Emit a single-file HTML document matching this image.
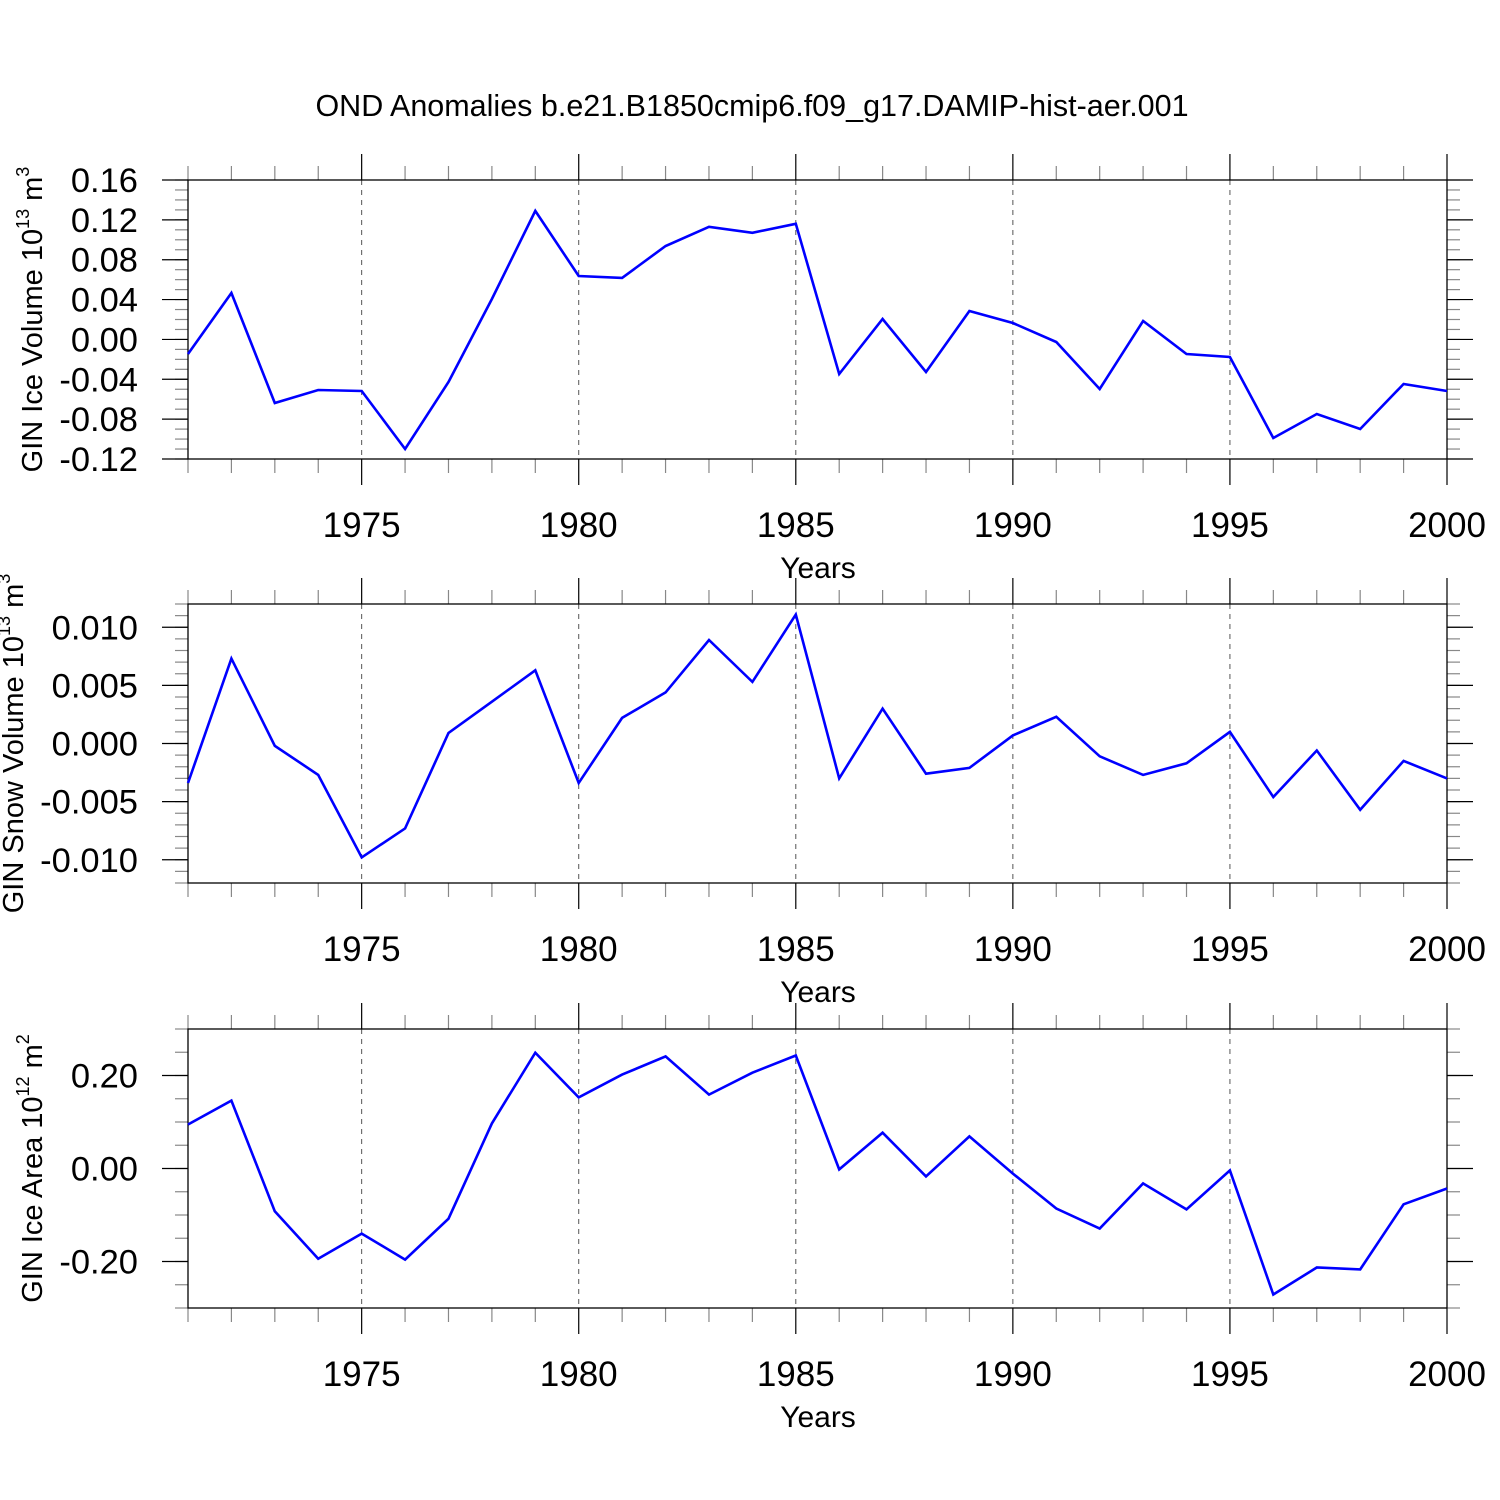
<!DOCTYPE html>
<html><head><meta charset="utf-8"><style>
html,body{margin:0;padding:0;background:#fff;}
svg{display:block;font-family:"Liberation Sans",Arial,sans-serif;}
</style></head><body>
<svg id="chart" width="1500" height="1500" viewBox="0 0 1500 1500" xmlns="http://www.w3.org/2000/svg">
<rect width="1500" height="1500" fill="#fff"/>
<text x="752" y="116" font-size="30.5" text-anchor="middle">OND Anomalies b.e21.B1850cmip6.f09_g17.DAMIP-hist-aer.001</text>
</svg>
<script>
const years = [1971,1972,1973,1974,1975,1976,1977,1978,1979,1980,1981,1982,1983,1984,1985,1986,1987,1988,1989,1990,1991,1992,1993,1994,1995,1996,1997,1998,1999,2000];
const xTickLabels = [1975,1980,1985,1990,1995,2000];
const iceVolume = [-0.0146,0.0466,-0.0638,-0.0508,-0.0518,-0.110,-0.0427,0.0406,0.129,0.0637,0.0617,0.0938,0.113,0.107,0.116,-0.0347,0.0205,-0.0327,0.0285,0.0165,-0.0026,-0.0497,0.0185,-0.0146,-0.0176,-0.0989,-0.0748,-0.0899,-0.0447,-0.0518];
const snowVolume = [-0.0034,0.0073,-0.0002,-0.0027,-0.0098,-0.0073,0.0009,0.0036,0.0063,-0.0034,0.0022,0.0044,0.0089,0.0053,0.0111,-0.0030,0.0030,-0.0026,-0.0021,0.0007,0.0023,-0.0011,-0.0027,-0.0017,0.0010,-0.0046,-0.0006,-0.0057,-0.0015,-0.0030];
const iceArea = [0.0946,0.146,-0.092,-0.194,-0.140,-0.196,-0.108,0.097,0.249,0.153,0.202,0.241,0.159,0.206,0.243,-0.002,0.077,-0.017,0.069,-0.011,-0.086,-0.129,-0.032,-0.088,-0.004,-0.271,-0.213,-0.217,-0.077,-0.043];
const iceVolumeTicks = ["0.16","0.12","0.08","0.04","0.00","-0.04","-0.08","-0.12"];
const snowVolumeTicks = ["0.010","0.005","0.000","-0.005","-0.010"];
const iceAreaTicks = ["0.20","0.00","-0.20"];

const NS="http://www.w3.org/2000/svg";
const svg=document.getElementById('chart');
const X0=188,X1=1447,XMIN=1971,XMAX=2000;
function xs(v){return X0+(v-XMIN)/(XMAX-XMIN)*(X1-X0);}
function mk(tag,attrs,parent){const e=document.createElementNS(NS,tag);for(const k in attrs)e.setAttribute(k,attrs[k]);(parent||svg).appendChild(e);return e;}

const panels=[
 {name:'ice-volume',top:180,min:-0.12,max:0.16,data:iceVolume,ticks:iceVolumeTicks,minor:0.01,titleX:32,
  title:['GIN Ice Volume 10','13',' m','3']},
 {name:'snow-volume',top:604,min:-0.012,max:0.012,data:snowVolume,ticks:snowVolumeTicks,minor:0.001,titleX:13,
  title:['GIN Snow Volume 10','13',' m','3']},
 {name:'ice-area',top:1029,min:-0.3,max:0.3,data:iceArea,ticks:iceAreaTicks,minor:0.05,titleX:32,
  title:['GIN Ice Area 10','12',' m','2']}
];
const H=279;
panels.forEach(p=>{
 const g=mk('g',{});
 
 
 const Y0=p.top,Y1=p.top+H;
 const ys=v=>Y1-(v-p.min)/(p.max-p.min)*H;
 xTickLabels.forEach(yr=>{ if(yr<XMAX){
   const l=mk('line',{x1:xs(yr),x2:xs(yr),y1:Y0,y2:Y1,stroke:'#555','stroke-width':1,'stroke-dasharray':'5,5'},g);
   
   
 }});
 years.forEach(yr=>{
   const major=yr%5===0;const len=major?26:14;const col=major?'#000':'#888';
   mk('line',{x1:xs(yr),x2:xs(yr),y1:Y0,y2:Y0-len,stroke:col,'stroke-width':1.2},g);
   mk('line',{x1:xs(yr),x2:xs(yr),y1:Y1,y2:Y1+len,stroke:col,'stroke-width':1.2},g);
 });
 const n=Math.round((p.max-p.min)/p.minor);
 for(let i=0;i<=n;i++){const v=p.min+i*p.minor;const y=ys(v);
   mk('line',{x1:X0,x2:X0-13,y1:y,y2:y,stroke:'#888','stroke-width':1.2},g);
   mk('line',{x1:X1,x2:X1+13,y1:y,y2:y,stroke:'#888','stroke-width':1.2},g);}
 p.ticks.forEach(t=>{const y=ys(parseFloat(t));
   mk('line',{x1:X0,x2:X0-26,y1:y,y2:y,stroke:'#000','stroke-width':1.2},g);
   mk('line',{x1:X1,x2:X1+26,y1:y,y2:y,stroke:'#000','stroke-width':1.2},g);
   const tx=mk('text',{x:138,y:y+12,'font-size':34.5,'text-anchor':'end'},g);tx.textContent=t;
   
   
 });
 const fr=mk('rect',{x:X0,y:Y0,width:X1-X0,height:H,fill:'none',stroke:'#000','stroke-width':1.3},g);
 
 
 xTickLabels.forEach(yr=>{const t=mk('text',{x:xs(yr),y:Y1+78,'font-size':35,'text-anchor':'middle'},g);t.textContent=yr;
   
   });
 const xt=mk('text',{x:818,y:Y1+119,'font-size':30,'text-anchor':'middle'},g);xt.textContent='Years';
 
 
 const cy=Y0+H/2;
 const yt=mk('text',{x:0,y:0,'font-size':29,'text-anchor':'middle',transform:`translate(${p.titleX+10},${cy}) rotate(-90)`},g);
 
 
 const a=mk('tspan',{},yt);a.textContent=p.title[0];
 const b=mk('tspan',{dy:-13,'font-size':18},yt);b.textContent=p.title[1];
 const c=mk('tspan',{dy:13},yt);c.textContent=p.title[2];
 const d=mk('tspan',{dy:-13,'font-size':18},yt);d.textContent=p.title[3];
 const pts=p.data.map((v,i)=>xs(years[i]).toFixed(1)+','+ys(v).toFixed(1)).join(' ');
 const pl=mk('polyline',{points:pts,fill:'none',stroke:'#0000ff','stroke-width':2.6,'stroke-linejoin':'miter'},g);
 
 
});
</script>
</body></html>
